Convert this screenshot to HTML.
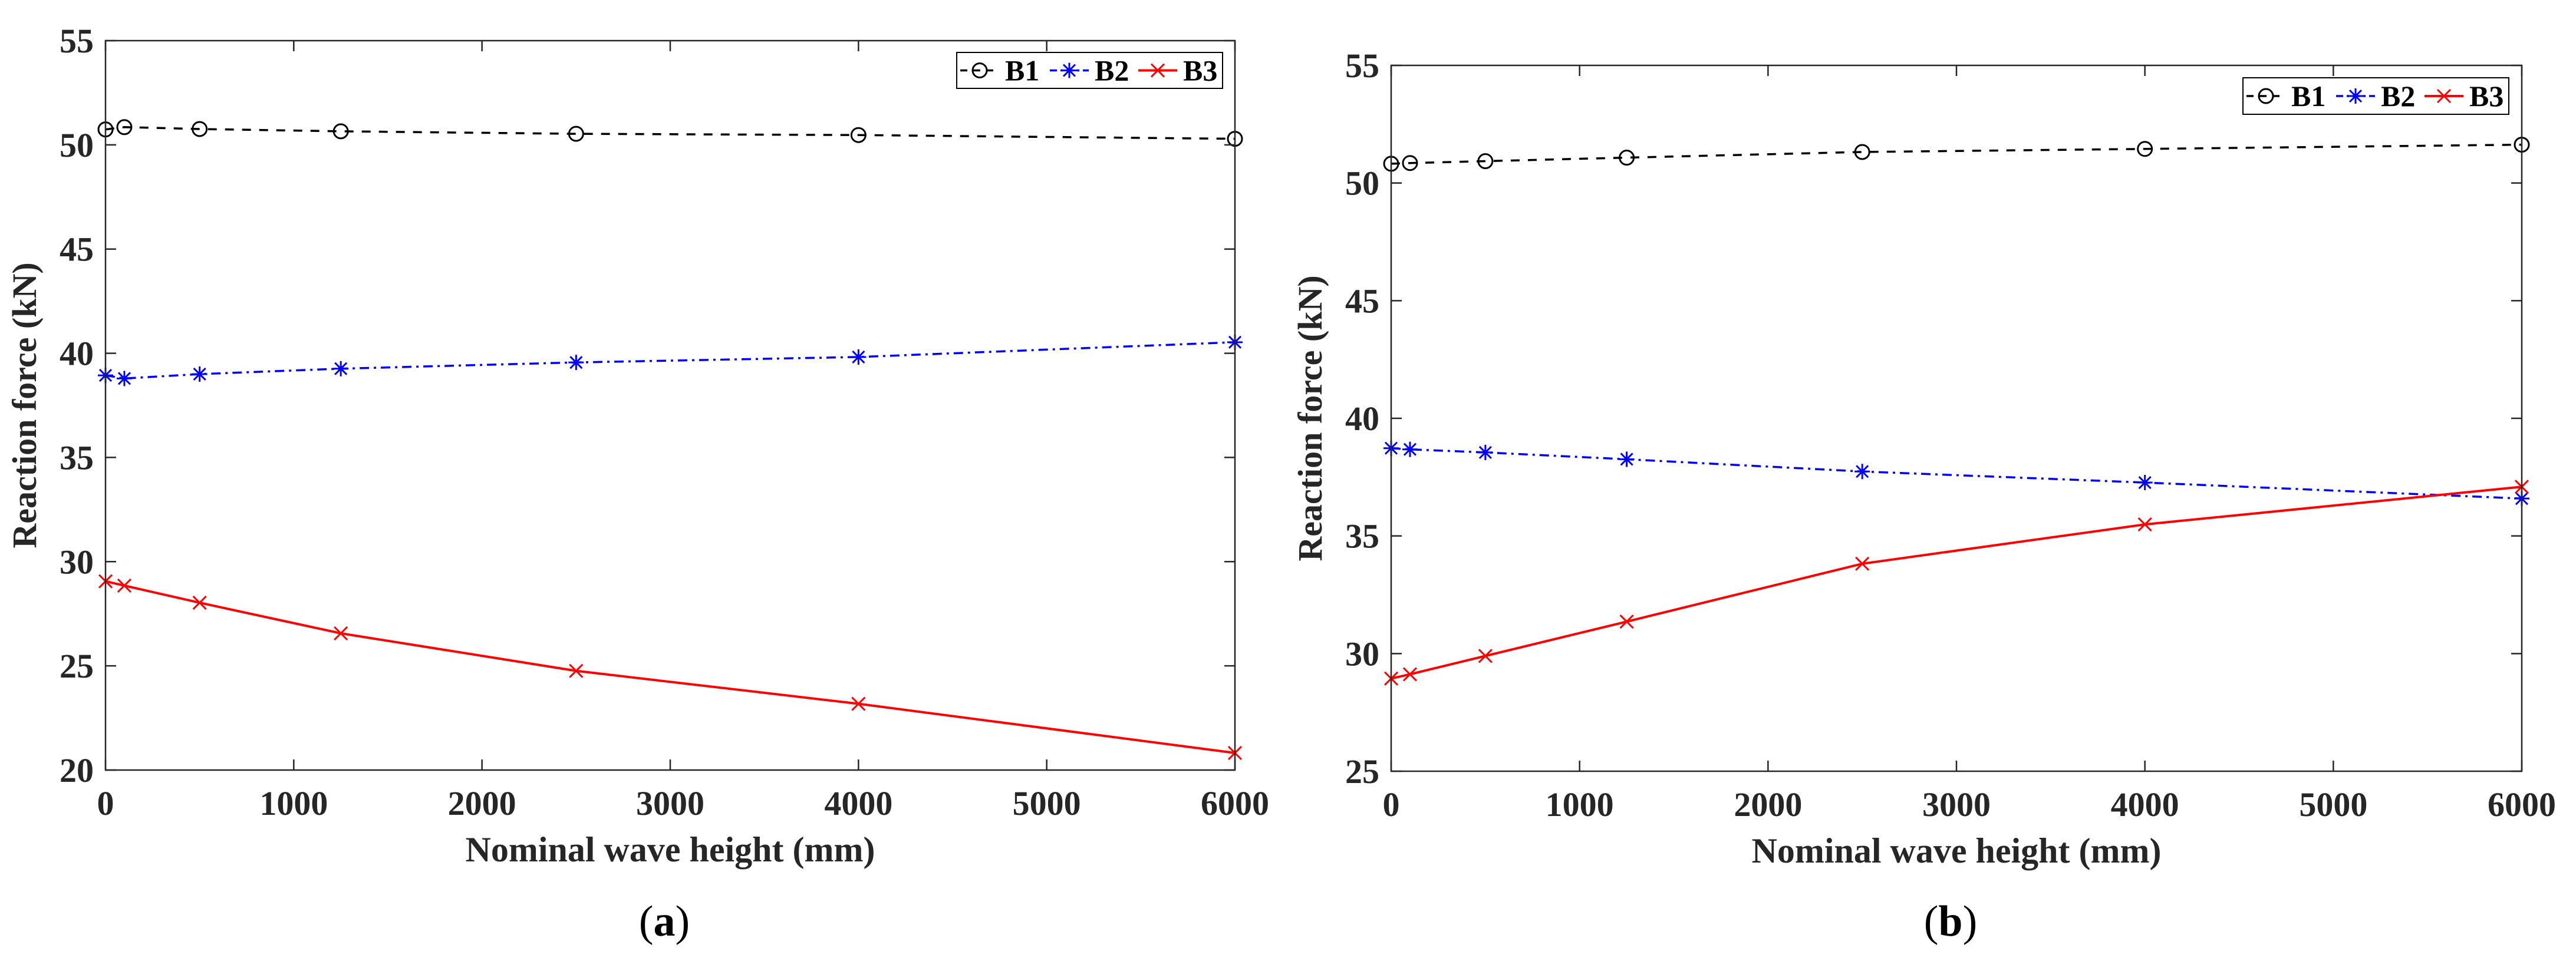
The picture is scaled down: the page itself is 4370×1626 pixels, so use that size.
<!DOCTYPE html>
<html><head><meta charset="utf-8"><style>
html,body{margin:0;padding:0;background:#fff;}
svg{display:block;font-family:"Liberation Serif",serif;}
</style></head><body>
<svg id="chart" width="4370" height="1626" viewBox="0 0 4370 1626" xmlns="http://www.w3.org/2000/svg"></svg>
<script>
const xValues = [0, 100, 500, 1250, 2500, 4000, 6000];
const xTicks = [0, 1000, 2000, 3000, 4000, 5000, 6000];
const seriesNames = ["B1", "B2", "B3"];
const aB1 = [50.74, 50.85, 50.76, 50.65, 50.53, 50.47, 50.29];
const aB2 = [38.94, 38.79, 39.0, 39.26, 39.56, 39.82, 40.53];
const aB3 = [29.06, 28.85, 28.03, 26.56, 24.76, 23.18, 20.82];
const bB1 = [50.82, 50.85, 50.93, 51.08, 51.32, 51.45, 51.63];
const bB2 = [38.73, 38.68, 38.55, 38.26, 37.74, 37.27, 36.59];
const bB3 = [28.94, 29.12, 29.9, 31.36, 33.82, 35.49, 37.09];
const aYTicks = [20, 25, 30, 35, 40, 45, 50, 55];
const bYTicks = [25, 30, 35, 40, 45, 50, 55];

const NS = "http://www.w3.org/2000/svg";
const svg = document.getElementById('chart');
function mk(tag, attrs, parent) {
  const e = document.createElementNS(NS, tag);
  for (const k in attrs) e.setAttribute(k, attrs[k]);
  (parent || svg).appendChild(e);
  return e;
}
const styles = [
  {color: "#000000", dash: "15 14", width: 3.5, marker: "circle"},
  {color: "#0000ff", dash: "16 8 4 8", width: 3.5, marker: "star"},
  {color: "#ff0000", dash: "none", width: 4, marker: "x"}
];
function marker(g, type, x, y, color) {
  if (type === "circle") {
    const c = mk('circle', {cx: x, cy: y, r: 12, fill: "none", stroke: color, "stroke-width": 3}, g);
    
    
  } else if (type === "x") {
    const p = mk('path', {d: `M${x-11},${y-11}L${x+11},${y+11}M${x-11},${y+11}L${x+11},${y-11}`, stroke: color, "stroke-width": 3, fill: "none"}, g);
    
    
  } else {
    const p = mk('path', {d: `M${x-13},${y}L${x+13},${y}M${x},${y-13}L${x},${y+13}M${x-10},${y-10}L${x+10},${y+10}M${x-10},${y+10}L${x+10},${y-10}`, stroke: color, "stroke-width": 3, fill: "none"}, g);
    
    
  }
}
function panel(id, L, R, T, B, ymin, ymax, yTicks, series, legend, caption) {
  const g = mk('g', {});
  
  
  const sx = v => L + (v - 0) / 6000 * (R - L);
  const sy = v => B - (v - ymin) / (ymax - ymin) * (B - T);
  series.forEach((vals, si) => {
    const st = styles[si];
    const sg = mk('g', {}, g);
    
    
    const pts = vals.map((v, i) => sx(xValues[i]) + "," + sy(v)).join(" ");
    const pl = mk('polyline', {points: pts, fill: "none", stroke: st.color, "stroke-width": st.width, "stroke-dasharray": st.dash}, sg);
    
    
    vals.forEach((v, i) => marker(sg, st.marker, sx(xValues[i]), sy(v), st.color));
  });
  const box = mk('rect', {x: L, y: T, width: R - L, height: B - T, fill: "none", stroke: "#262626", "stroke-width": 2.5}, g);
  
  
  xTicks.forEach(t => {
    const x = sx(t);
    mk('path', {d: `M${x},${B}L${x},${B-18}M${x},${T}L${x},${T+18}`, stroke: "#262626", "stroke-width": 2.5}, g);
    const tx = mk('text', {x: x, y: B + 76, "text-anchor": "middle", "font-size": 58, "font-weight": "bold", fill: "#262626"}, g);
    tx.textContent = t;
    
    
  });
  yTicks.forEach(t => {
    const y = sy(t);
    mk('path', {d: `M${L},${y}L${L+18},${y}M${R},${y}L${R-18},${y}`, stroke: "#262626", "stroke-width": 2.5}, g);
    const tx = mk('text', {x: L - 20, y: y + 20, "text-anchor": "end", "font-size": 58, "font-weight": "bold", fill: "#262626"}, g);
    tx.textContent = t;
    
    
  });
  const xl = mk('text', {x: (L + R) / 2, y: B + 155, "text-anchor": "middle", "font-size": 60, "font-weight": "bold", fill: "#262626"}, g);
  xl.textContent = "Nominal wave height (mm)";
  
  
  const yc = (T + B) / 2;
  const yl = mk('text', {x: L - 118, y: yc, "text-anchor": "middle", "font-size": 58, "font-weight": "bold", fill: "#262626", transform: `rotate(-90 ${L-118} ${yc})`}, g);
  yl.textContent = "Reaction force (kN)";
  
  
  const lg = mk('g', {}, g);
  
  
  const lb = mk('rect', {x: legend.x0, y: legend.y0, width: legend.x1 - legend.x0, height: legend.y1 - legend.y0, fill: "#fff", stroke: "#000", "stroke-width": 2}, lg);
  
  
  const ly = (legend.y0 + legend.y1) / 2;
  const offs = [6, 158, 308];
  seriesNames.forEach((n, si) => {
    const st = styles[si];
    const eg = mk('g', {}, lg);
    
    
    const x = legend.x0 + offs[si];
    mk('line', {x1: x, y1: ly, x2: x + 66, y2: ly, stroke: st.color, "stroke-width": st.width, "stroke-dasharray": si === 0 ? "12 10" : (si === 1 ? "12 6 4 6" : "none")}, eg);
    marker(eg, st.marker, x + 33, ly, st.color);
    const t = mk('text', {x: x + 76, y: ly + 17, "font-size": 50, "font-weight": "bold", fill: "#000"}, eg);
    t.textContent = n;
  });
  const cap = mk('text', {x: (L + R) / 2 - 10, y: 1588, "text-anchor": "middle", "font-size": 74, fill: "#000"}, g);
  cap.innerHTML = '(<tspan font-weight="bold">' + caption + '</tspan>)';
  
  
}
panel('a', 179, 2095, 69, 1307, 20, 55, aYTicks, [aB1, aB2, aB3], {x0: 1623, x1: 2074, y0: 89, y1: 150}, 'a');
panel('b', 2360, 4278, 111, 1309, 25, 55, bYTicks, [bB1, bB2, bB3], {x0: 3805, x1: 4256, y0: 132, y1: 194}, 'b');
</script>
</body></html>
